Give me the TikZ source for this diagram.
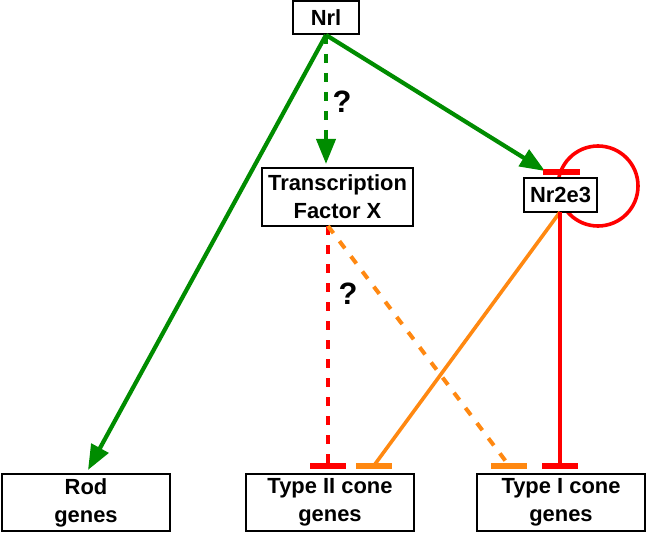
\documentclass[tikz,border=0pt]{standalone}
\usepackage{fontspec}
\setmainfont{Liberation Sans}
\usetikzlibrary{arrows.meta}
\definecolor{cgreen}{RGB}{0,140,0}
\definecolor{cred}{RGB}{255,0,0}
\definecolor{corange}{RGB}{255,136,17}
\tikzset{
  gbox/.style={draw, line width=2bp, fill=white, inner sep=0pt, align=center,
    font=\fontsize{22}{28}\selectfont\bfseries},
  act/.style={draw=cgreen, line width=4.2bp, -{Triangle[length=25bp,width=19bp]}},
  inhred/.style={draw=cred, line width=3.6bp},
  inhorange/.style={draw=corange, line width=3.6bp},
  tbar/.style={line width=6bp},
  dashpat/.style={line width=4bp, dash pattern=on 9bp off 10bp},
  qmark/.style={font=\fontsize{31}{31}\selectfont\bfseries, inner sep=0pt}
}
\begin{document}
\begin{tikzpicture}[x=1bp,y=-1bp]
\useasboundingbox (0,0) rectangle (646,533);
% nodes
\node[gbox, minimum width=66bp, minimum height=33bp] (nrl) at (326,17.5) {Nrl};
\node[gbox, minimum width=151bp, minimum height=58bp] (tf) at (337.5,197) {Transcription\\Factor X};
% self-loop of Nr2e3 (drawn before the box so the box covers it)
\draw[inhred] (598,186) circle[radius=40];
\node[gbox, minimum width=73bp, minimum height=34bp] (nr) at (560.5,195) {Nr2e3};
\node[gbox, minimum width=168bp, minimum height=57bp] (rod) at (86,502.5) {Rod\\genes};
\node[gbox, minimum width=168bp, minimum height=57bp] (t2) at (330,502.5) {Type II cone\\genes};
\node[gbox, minimum width=168bp, minimum height=57bp] (t1) at (561,502.5) {Type I cone\\genes};
% coordinates
\coordinate (rodtip) at (88,470);
\coordinate (tftip) at (326,164);
\coordinate (nrtip) at (545,171);
\coordinate (nrbarL) at (543,172);
\coordinate (nrbarR) at (580,172);
\coordinate (tfout) at (328,226);
\coordinate (nrout) at (560,212);
\coordinate (redII) at (328,465.5);
\coordinate (orII) at (374,465.5);
\coordinate (orI) at (509,465.5);
\coordinate (redI) at (560,465.5);
% green activations
\draw[act] (nrl.south) -- (rodtip);
\draw[act] (nrl.south) -- (nrtip);
\draw[act, dashpat] (nrl.south) -- (tftip);
\node[qmark] (q1) at (342,102) {?};
% T-bar above Nr2e3
\draw[cred, tbar] (nrbarL) -- (nrbarR);
% repression lines
\draw[inhred, dashpat] (tfout) -- (redII);
\draw[inhorange, dashpat] (tfout) -- (orI);
\node[qmark] (q2) at (348,294) {?};
\draw[inhorange] (nrout) -- (orII);
\draw[inhred] (nrout) -- (redI);
% bottom T-bars
\draw[cred, tbar] ([xshift=-18bp]redII) -- ([xshift=18bp]redII);
\draw[corange, tbar] ([xshift=-18bp]orII) -- ([xshift=18bp]orII);
\draw[corange, tbar] ([xshift=-18bp]orI) -- ([xshift=18bp]orI);
\draw[cred, tbar] ([xshift=-18bp]redI) -- ([xshift=18bp]redI);
\end{tikzpicture}
\end{document}
